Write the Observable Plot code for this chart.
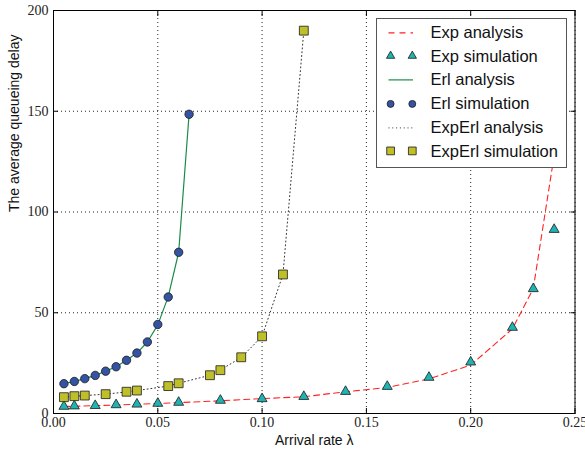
<!DOCTYPE html>
<html>
<head>
<meta charset="utf-8">
<script src="https://cdn.jsdelivr.net/npm/d3@7"></script>
<script src="https://cdn.jsdelivr.net/npm/@observablehq/plot@0.6"></script>
<style>
  html, body { margin: 0; padding: 0; background: #fff; }
  #wrap { position: relative; width: 585px; height: 451px; overflow: hidden; }
  #legend {
    position: absolute; left: 375.5px; top: 18px; width: 189px; height: 146px;
    background: #fff; border: 1px solid #555; box-sizing: content-box;
    font-family: "Liberation Sans", Arial, sans-serif; font-size: 16.5px; color: #111;
    padding-top: 1.5px;
  }
  .row { display: flex; align-items: center; height: 23.8px; }
  .row svg { flex: 0 0 54px; }
  .row span { white-space: nowrap; }
</style>
</head>
<body>
<div id="wrap"><div id="legend"></div></div>
<script>
// ---- Data ----
const xTicks = [0, 0.05, 0.10, 0.15, 0.20, 0.25];
const yTicks = [0, 50, 100, 150, 200];

// Exponential service
const expX   = [0.005, 0.01, 0.02, 0.03, 0.04, 0.05, 0.06, 0.08, 0.10, 0.12, 0.14, 0.16, 0.18, 0.20, 0.22, 0.23, 0.24];
const expSim = [3.5, 3.7, 3.9, 4.3, 4.6, 5.0, 5.5, 6.5, 7.3, 8.4, 10.9, 13.4, 17.9, 25.5, 42.7, 61.9, 91.3];
const expAna = [3.4, 3.6, 3.9, 4.2, 4.6, 5.0, 5.4, 6.3, 7.4, 8.3, 10.8, 12.9, 17.2, 24.0, 42.0, 62.0, 128.0];

// Erlang service
const erlX   = [0.005, 0.01, 0.015, 0.02, 0.025, 0.03, 0.035, 0.04, 0.045, 0.05, 0.055, 0.06, 0.065];
const erlSim = [14.8, 15.9, 17.3, 18.9, 21.0, 23.2, 26.4, 30.0, 35.5, 44.2, 57.8, 80.0, 148.5];
const erlAna = [14.8, 15.9, 17.3, 18.9, 21.0, 23.2, 26.4, 30.0, 35.5, 44.0, 58.0, 80.0, 148.5];

// Exp-Erlang service
const expErlX   = [0.005, 0.01, 0.015, 0.025, 0.035, 0.04, 0.055, 0.06, 0.075, 0.08, 0.09, 0.10, 0.11, 0.12];
const expErlSim = [8.1, 8.6, 8.9, 9.6, 10.8, 11.4, 13.6, 15.0, 19.0, 21.5, 27.9, 38.3, 69.0, 190.0];
const expErlAna = [8.1, 8.5, 8.9, 9.6, 10.7, 11.4, 13.6, 15.0, 19.0, 21.6, 27.8, 38.3, 69.0, 190.0];

const legendItems = ["Exp analysis", "Exp simulation", "Erl analysis", "Erl simulation", "ExpErl analysis", "ExpErl simulation"];

// ---- styles ----
const C = {
  red: "#f22",
  teal: "#1fb3b3",
  green: "#1a8c48",
  blue: "#3553a3",
  olive: "#bfbf2a",
  edge: "#1a1a1a",
  dotted: "#333"
};

const zip = (xs, ys) => xs.map((x, i) => ({x, y: ys[i]}));
const expSimD = zip(expX, expSim), expAnaD = zip(expX, expAna);
const erlSimD = zip(erlX, erlSim), erlAnaD = zip(erlX, erlAna);
const eeSimD = zip(expErlX, expErlSim), eeAnaD = zip(expErlX, expErlAna);

const serif = "'Liberation Serif', 'Times New Roman', serif";
const sans = "'Liberation Sans', Arial, sans-serif";

const chart = Plot.plot({
  width: 585,
  height: 451,
  marginLeft: 53,
  marginRight: 10.5,
  marginTop: 10,
  marginBottom: 38,
  style: {background: "#fff", overflow: "hidden"},
  x: {domain: [0, 0.25]},
  y: {domain: [0, 200]},
  marks: [
    Plot.gridX(xTicks, {stroke: "#000", strokeOpacity: 0.85, strokeDasharray: "1,3"}),
    Plot.gridY(yTicks, {stroke: "#000", strokeOpacity: 0.85, strokeDasharray: "1,3"}),
    Plot.line(expAnaD, {x: "x", y: "y", stroke: C.red, strokeWidth: 1.1, strokeDasharray: "6,4"}),
    Plot.dot(expSimD, {x: "x", y: "y", symbol: "triangle", r: 3.7, fill: C.teal, stroke: C.edge, strokeWidth: 0.8}),
    Plot.line(erlAnaD, {x: "x", y: "y", stroke: C.green, strokeWidth: 1.2}),
    Plot.dot(erlSimD, {x: "x", y: "y", symbol: "circle", r: 4.2, fill: C.blue, stroke: C.edge, strokeWidth: 0.8}),
    Plot.line(eeAnaD, {x: "x", y: "y", stroke: C.dotted, strokeWidth: 1, strokeDasharray: "1,2.8"}),
    Plot.dot(eeSimD, {x: "x", y: "y", symbol: "square", r: 5, fill: C.olive, stroke: C.edge, strokeWidth: 0.8}),
    Plot.frame({stroke: "#000", strokeWidth: 1}),
    Plot.axisX(xTicks, {anchor: "bottom", tickSize: -5, text: null, label: null, stroke: "#000"}),
    Plot.axisX(xTicks, {anchor: "top", tickSize: -5, text: null, label: null, stroke: "#000"}),
    Plot.axisY(yTicks, {anchor: "left", tickSize: -5, text: null, label: null, stroke: "#000"}),
    Plot.axisY(yTicks, {anchor: "right", tickSize: -5, text: null, label: null, stroke: "#000"}),
    Plot.axisX(xTicks, {anchor: "bottom", tickSize: 0, tickPadding: 4, tickFormat: d3.format(".2f"),
      label: null, fontFamily: serif, fontSize: 14, fill: "#222"}),
    Plot.axisY(yTicks, {anchor: "left", tickSize: 0, tickPadding: 5, tickFormat: d3.format("d"),
      label: null, fontFamily: serif, fontSize: 14, fill: "#222"}),
    Plot.text(["Arrival rate λ"], {text: d => d, frameAnchor: "bottom", dy: 31, lineAnchor: "bottom",
      fontFamily: sans, fontSize: 14, fill: "#111"}),
    Plot.text(["The average queueing delay"], {text: d => d, frameAnchor: "left", dx: -39, rotate: -90,
      fontFamily: sans, fontSize: 14, fill: "#111"})
  ]
});
document.getElementById("wrap").prepend(chart);

// ---- legend (HTML overlay, opaque like matplotlib's) ----
const legend = d3.select("#legend");
const styles = [
  {line: {stroke: C.red, dash: "6,5", w: 1.1}},
  {marker: {type: d3.symbolTriangle, size: 30, fill: C.teal}},
  {line: {stroke: C.green, dash: null, w: 1.2}},
  {marker: {type: d3.symbolCircle, size: 38, fill: C.blue}},
  {line: {stroke: C.dotted, dash: "1,2.8", w: 1}},
  {marker: {type: d3.symbolSquare, size: 60, fill: C.olive}}
];
legendItems.forEach((name, i) => {
  const row = legend.append("div").attr("class", "row");
  const svg = row.append("svg").attr("width", 54).attr("height", 23.8);
  const s = styles[i];
  if (s.line) {
    svg.append("line").attr("x1", 11.5).attr("x2", 36).attr("y1", 11.9).attr("y2", 11.9)
      .attr("stroke", s.line.stroke).attr("stroke-width", s.line.w)
      .attr("stroke-dasharray", s.line.dash);
  } else {
    [13.6, 35.3].forEach(cx => {
      svg.append("path").attr("d", d3.symbol(s.marker.type, s.marker.size)())
        .attr("transform", `translate(${cx},11.9)`)
        .attr("fill", s.marker.fill).attr("stroke", C.edge).attr("stroke-width", 0.8);
    });
  }
  row.append("span").text(name);
});
</script>
</body>
</html>
